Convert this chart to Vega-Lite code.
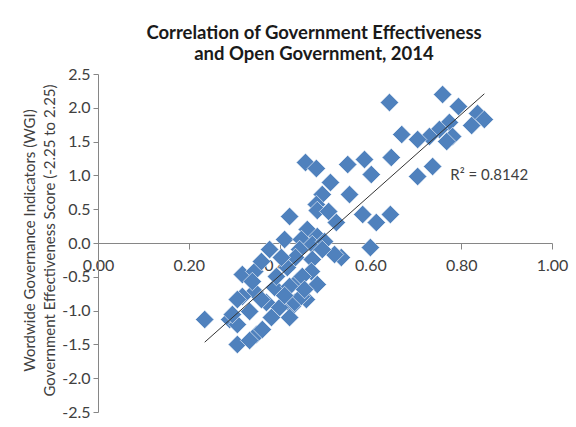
{
  "$schema": "https://vega.github.io/schema/vega-lite/v6.json",
  "autosize": "none",
  "width": 454,
  "height": 338,
  "padding": {"left": 98, "top": 74, "right": 24, "bottom": 15},
  "background": "white",
  "title": {
    "text": ["Correlation of Government Effectiveness", "and Open Government, 2014"],
    "font": "Lato",
    "fontSize": 18.5,
    "fontWeight": "bold",
    "color": "#1a1a1a",
    "anchor": "middle",
    "dx": -11,
    "baseline": "alphabetic",
    "lineHeight": 21,
    "offset": -12
  },
  "config": {
    "view": {"stroke": null},
    "axis": {
      "grid": false,
      "domainColor": "#868686",
      "tickColor": "#868686",
      "labelFont": "Lato",
      "labelFontSize": 16,
      "labelColor": "#404040",
      "titleFont": "Lato",
      "labelFlush": false,
      "labelOverlap": false
    }
  },
  "datasets": {
    "countries": [
      {"x": 0.642, "y": 2.078}, {"x": 0.759, "y": 2.197}, {"x": 0.794, "y": 2.019}, {"x": 0.836, "y": 1.916},
      {"x": 0.851, "y": 1.827}, {"x": 0.823, "y": 1.738}, {"x": 0.774, "y": 1.783}, {"x": 0.752, "y": 1.679},
      {"x": 0.730, "y": 1.575}, {"x": 0.704, "y": 1.531}, {"x": 0.669, "y": 1.605}, {"x": 0.781, "y": 1.575},
      {"x": 0.768, "y": 1.501}, {"x": 0.646, "y": 1.265}, {"x": 0.737, "y": 1.132}, {"x": 0.704, "y": 0.984},
      {"x": 0.644, "y": 0.422}, {"x": 0.587, "y": 1.235}, {"x": 0.550, "y": 1.161}, {"x": 0.602, "y": 1.013},
      {"x": 0.554, "y": 0.717}, {"x": 0.583, "y": 0.422}, {"x": 0.613, "y": 0.303}, {"x": 0.600, "y": -0.067},
      {"x": 0.536, "y": -0.214}, {"x": 0.457, "y": 1.191}, {"x": 0.481, "y": 1.102}, {"x": 0.512, "y": 0.895},
      {"x": 0.494, "y": 0.717}, {"x": 0.481, "y": 0.570}, {"x": 0.422, "y": 0.392}, {"x": 0.483, "y": 0.481},
      {"x": 0.508, "y": 0.466}, {"x": 0.461, "y": 0.200}, {"x": 0.525, "y": 0.303}, {"x": 0.483, "y": 0.096},
      {"x": 0.411, "y": 0.052}, {"x": 0.448, "y": 0.052}, {"x": 0.472, "y": -0.022}, {"x": 0.499, "y": 0.022},
      {"x": 0.521, "y": -0.170}, {"x": 0.378, "y": -0.096}, {"x": 0.444, "y": -0.096}, {"x": 0.494, "y": -0.096},
      {"x": 0.472, "y": -0.244}, {"x": 0.318, "y": -0.466}, {"x": 0.345, "y": -0.422}, {"x": 0.417, "y": -0.362},
      {"x": 0.470, "y": -0.422}, {"x": 0.439, "y": -0.570}, {"x": 0.389, "y": -0.658}, {"x": 0.483, "y": -0.614},
      {"x": 0.345, "y": -0.717}, {"x": 0.340, "y": -0.570}, {"x": 0.393, "y": -0.496}, {"x": 0.450, "y": -0.496},
      {"x": 0.318, "y": -0.791}, {"x": 0.422, "y": -0.643}, {"x": 0.459, "y": -0.836}, {"x": 0.428, "y": -0.939},
      {"x": 0.400, "y": -0.954}, {"x": 0.371, "y": -0.880}, {"x": 0.334, "y": -1.013}, {"x": 0.422, "y": -1.102},
      {"x": 0.235, "y": -1.132}, {"x": 0.290, "y": -1.132}, {"x": 0.307, "y": -1.206}, {"x": 0.349, "y": -1.354},
      {"x": 0.362, "y": -1.280}, {"x": 0.307, "y": -1.501}, {"x": 0.334, "y": -1.442}, {"x": 0.307, "y": -0.836},
      {"x": 0.360, "y": -0.836}, {"x": 0.433, "y": -0.880}, {"x": 0.448, "y": -0.791}, {"x": 0.296, "y": -1.058},
      {"x": 0.435, "y": -0.214}, {"x": 0.404, "y": -0.214}, {"x": 0.360, "y": -0.274}, {"x": 0.455, "y": -0.688},
      {"x": 0.411, "y": -0.777}, {"x": 0.382, "y": -1.102}
    ]
  },
  "layer": [
    {
      "data": {"name": "countries"},
      "mark": {"type": "point", "shape": "diamond", "filled": true, "size": 340, "fill": "#4F81BD", "stroke": "white", "strokeWidth": 0.6, "opacity": 1},
      "encoding": {
        "x": {
          "field": "x", "type": "quantitative",
          "scale": {"domain": [0, 1], "nice": false, "zero": false},
          "axis": {"values": [0, 0.2, 0.4, 0.6, 0.8, 1.0], "tickCount": 6, "format": ".2f", "offset": -169, "tickSize": 6, "labelPadding": 8, "title": null, "labelOverlap": false}
        },
        "y": {
          "field": "y", "type": "quantitative",
          "scale": {"domain": [-2.5, 2.5], "nice": false, "zero": false},
          "axis": {
            "values": [-2.5, -2, -1.5, -1, -0.5, 0, 0.5, 1, 1.5, 2, 2.5],
            "tickCount": 11,
            "labelExpr": "replace(format(datum.value, '.1f'), '\u2212', '-')",
            "tickSize": 5, "labelPadding": 3, "labelOverlap": false,
            "title": ["Wordwide Governance Indicators (WGI)", "Government Effectiveness Score (-2.25 to 2.25)"],
            "titleFontSize": 15, "titleFontWeight": "normal", "titleColor": "#404040",
            "titleX": -69, "titleY": 166, "titleAngle": -90, "titleBaseline": "middle",
            "titleAlign": "center", "titleLineHeight": 20
          }
        }
      }
    },
    {
      "data": {"name": "countries"},
      "transform": [{"regression": "y", "on": "x"}],
      "mark": {"type": "line", "color": "#333333", "strokeWidth": 1},
      "encoding": {
        "x": {"field": "x", "type": "quantitative"},
        "y": {"field": "y", "type": "quantitative"}
      }
    },
    {
      "data": {"values": [{"x": 0.776, "y": 1.0, "label": "R² = 0.8142"}]},
      "mark": {"type": "text", "align": "left", "baseline": "middle", "font": "Lato", "fontSize": 15, "color": "#404040"},
      "encoding": {
        "x": {"field": "x", "type": "quantitative"},
        "y": {"field": "y", "type": "quantitative"},
        "text": {"field": "label"}
      }
    }
  ]
}
